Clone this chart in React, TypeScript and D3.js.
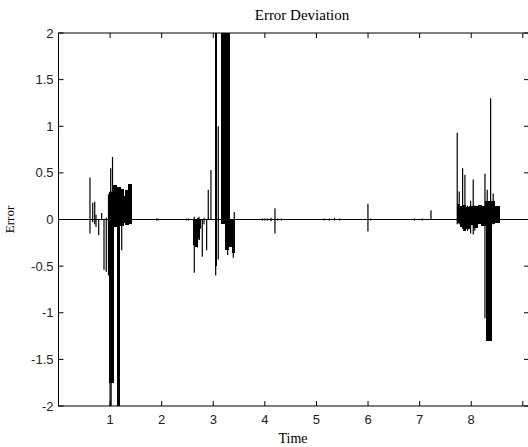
import React from "react";
import * as d3 from "d3";

// ---- data ----
// isolated vertical excursions of the error signal: time, upper value, lower value
const spikeT = [
  0.61, 0.663, 0.702, 0.727, 0.779, 0.837, 0.882, 0.926, 0.969, 1.0, 1.012, 1.02, 1.047, 1.178, 1.225,
  1.9, 1.93, 2.48, 2.52,
  2.632, 2.665, 2.694, 2.723, 2.752, 2.787, 2.82, 2.872, 2.903, 2.955, 3.047, 3.097, 3.279, 3.388, 3.407,
  3.95, 4.0, 4.05, 4.12, 4.196, 4.25, 4.32,
  5.15, 5.25, 5.35, 5.45, 5.998, 6.05, 6.9, 7.05, 7.22,
  7.729, 7.767, 7.833, 7.878, 7.93, 7.988, 8.039, 8.07, 8.266, 8.31, 8.376, 8.426,
];
const spikeHi = [
  0.45, 0.18, 0.19, 0.05, 0.0, 0.07, 0.0, 0.02, 0.27, 0.3, 0.55, 0.3, 0.67, 0.0, 0.0,
  0.01, 0.01, 0.01, 0.01,
  0.03, 0.0, 0.0, 0.03, 0.0, 0.0, 0.02, 0.0, 0.32, 0.53, 2.2, 1.0, 0.0, 0.0, 0.08,
  0.01, 0.01, 0.01, 0.02, 0.12, 0.01, 0.01,
  0.01, 0.01, 0.02, 0.01, 0.17, 0.01, 0.01, 0.01, 0.1,
  0.93, 0.3, 0.55, 0.48, 0.15, 0.2, 0.43, 0.15, 0.49, 0.32, 1.3, 0.28,
];
const spikeLo = [
  -0.15, -0.03, -0.05, -0.08, -0.17, 0.0, -0.54, -0.56, -0.6, -2.2, -0.45, -2.2, -0.25, -0.3, -0.33,
  -0.01, -0.01, -0.01, -0.01,
  -0.57, -0.28, -0.3, -0.22, -0.1, -0.4, -0.05, -0.33, 0.0, 0.0, -0.6, -0.43, -0.38, -0.41, 0.0,
  -0.01, -0.01, -0.01, -0.02, -0.15, -0.01, -0.01,
  -0.01, -0.01, -0.01, -0.01, -0.13, -0.01, -0.01, -0.01, 0.0,
  -0.05, -0.05, -0.1, -0.12, -0.12, -0.15, -0.16, -0.12, -1.06, -0.1, -0.1, -0.05,
];

// dense (solid-looking) stretches of the signal: start time, end time, low, high
const bandT0 = [
  0.99, 1.056, 1.12, 1.2, 1.27, 1.3, 1.36, 1.147,
  2.612, 2.65, 2.69, 2.725,
  3.035, 3.163, 3.227, 3.3, 3.36,
  7.723, 7.78, 7.84, 7.9, 7.97, 8.05, 8.13, 8.2, 8.28, 8.45, 8.3,
];
const bandT1 = [
  1.07, 1.12, 1.2, 1.27, 1.3, 1.36, 1.42, 1.192,
  2.64, 2.68, 2.72, 2.742,
  3.075, 3.31, 3.3, 3.36, 3.42,
  7.78, 7.84, 7.9, 7.97, 8.05, 8.13, 8.2, 8.28, 8.45, 8.543, 8.4,
];
const bandLo = [
  -1.75, -0.08, -0.05, -0.07, -0.04, -0.06, -0.05, -2.2,
  -0.27, -0.3, -0.2, -0.22,
  -0.5, -0.05, -0.33, -0.3, -0.36,
  -0.04, -0.08, -0.12, -0.1, -0.06, -0.09, -0.05, -0.07, -0.05, -0.04, -1.3,
];
const bandHi = [
  0.3, 0.37, 0.35, 0.33, 0.25, 0.32, 0.38, 0.35,
  0.01, 0.01, 0.02, 0.01,
  2.2, 2.2, 0.0, 0.01, 0.0,
  0.17, 0.14, 0.16, 0.13, 0.15, 0.14, 0.16, 0.15, 0.2, 0.15, 0.0,
];

const xTicks = [1, 2, 3, 4, 5, 6, 7, 8, 9];
const xTickLabels = ["1", "2", "3", "4", "5", "6", "7", "8", ""];
const yTicks = [-2, -1.5, -1, -0.5, 0, 0.5, 1, 1.5, 2];
const yTickLabels = ["-2", "-1.5", "-1", "-0.5", "0", "0.5", "1", "1.5", "2"];

const W = 528;
const H = 447;
const L = 58.5;
const R = 529;
const T = 33;
const B = 406;

export default function App() {
  const x = d3.scaleLinear().domain([0, 9.12]).range([L, R]);
  const y = d3.scaleLinear().domain([-2, 2]).range([B, T]);
  const sans = "'Liberation Sans', Arial, sans-serif";
  const serif = "'Liberation Serif', 'Times New Roman', serif";
  const tl = 5;

  return (
    <svg
      width={W}
      height={H}
      style={{ position: "absolute", left: 0, top: 0, background: "#fff" }}
    >
      <defs>
        <clipPath id="plotclip">
          <rect x={L} y={T} width={R - L} height={B - T} />
        </clipPath>
      </defs>
      <rect x={0} y={0} width={W} height={H} fill="#fff" />
      <g clipPath="url(#plotclip)">
        <line x1={x(0)} x2={x(9.12)} y1={y(0)} y2={y(0)} stroke="#000" strokeWidth={1.2} />
        {bandT0.map((t0, i) => (
          <rect
            key={"b" + i}
            x={x(t0) - 0.3}
            width={Math.max(1, x(bandT1[i]) - x(t0)) + 0.6}
            y={y(bandHi[i])}
            height={y(bandLo[i]) - y(bandHi[i])}
            fill="#000"
            shapeRendering="crispEdges"
          />
        ))}
        {spikeT.map((t, i) => (
          <line
            key={"s" + i}
            x1={x(t)}
            x2={x(t)}
            y1={y(spikeHi[i])}
            y2={y(spikeLo[i])}
            stroke="#000"
            strokeWidth={1.2}
          />
        ))}
      </g>
      {/* axes box */}
      <rect x={L} y={T} width={R - L} height={B - T} fill="none" stroke="#000" strokeWidth={1} />
      {xTicks.map((v, i) => (
        <g key={"xt" + i}>
          <line x1={x(v)} x2={x(v)} y1={B} y2={B - tl} stroke="#000" />
          <line x1={x(v)} x2={x(v)} y1={T} y2={T + tl} stroke="#000" />
          <text x={x(v)} y={424} textAnchor="middle" fontFamily={sans} fontSize={13} fill="#222">
            {xTickLabels[i]}
          </text>
        </g>
      ))}
      {yTicks.map((v, i) => (
        <g key={"yt" + i}>
          <line x1={L} x2={L + tl} y1={y(v)} y2={y(v)} stroke="#000" />
          <line x1={R} x2={R - tl} y1={y(v)} y2={y(v)} stroke="#000" />
          <text
            x={L - 5}
            y={y(v) + 4.5}
            textAnchor="end"
            fontFamily={sans}
            fontSize={13}
            fill="#222"
          >
            {yTickLabels[i]}
          </text>
        </g>
      ))}
      <text x={302} y={20} textAnchor="middle" fontFamily={serif} fontSize={15} fill="#000">
        Error Deviation
      </text>
      <text x={293} y={443} textAnchor="middle" fontFamily={serif} fontSize={14} fill="#000">
        Time
      </text>
      <text
        transform={`translate(14, ${y(0)}) rotate(-90)`}
        textAnchor="middle"
        fontFamily={serif}
        fontSize={13}
        fill="#000"
      >
        Error
      </text>
    </svg>
  );
}
